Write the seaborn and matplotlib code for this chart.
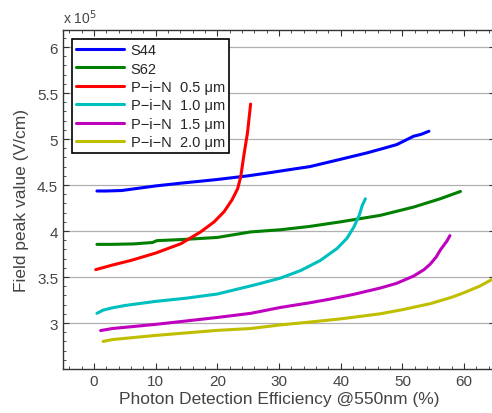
import matplotlib
matplotlib.use("Agg")
import matplotlib.pyplot as plt
from matplotlib.ticker import MultipleLocator
import pandas as pd
import seaborn as sns

# values (x = PDE %, y = field peak in 1e5 V/cm)
s44_x = [0.5, 2, 4.5, 10, 14.1, 20, 25, 28.6, 32, 35, 40, 44.3, 47, 49.1, 51.8, 53, 54.3]
s44_y = [4.435, 4.435, 4.44, 4.49, 4.52, 4.56, 4.60, 4.635, 4.67, 4.70, 4.78, 4.85, 4.90, 4.94, 5.03, 5.05, 5.085]

s62_x = [0.5, 3, 6.5, 9.5, 10.2, 15, 20, 25.4, 30.3, 35, 40, 46.4, 51.8, 56.1, 59.4]
s62_y = [3.855, 3.855, 3.86, 3.875, 3.895, 3.91, 3.93, 3.99, 4.014, 4.05, 4.10, 4.17, 4.26, 4.35, 4.43]

pin05_x = [0.3, 3, 6, 10, 14.1, 17.3, 19.5, 21.1, 22.4, 23.3, 23.8, 24.3, 24.9, 25.4]
pin05_y = [3.58, 3.63, 3.68, 3.76, 3.862, 3.99, 4.10, 4.21, 4.34, 4.46, 4.59, 4.82, 5.07, 5.38]

pin10_x = [0.5, 1.5, 3, 5, 10, 15, 20, 23.8, 27, 30.3, 33.5, 36.7, 39.4, 41.0, 42.1, 43.0, 43.5, 44.0]
pin10_y = [3.105, 3.14, 3.165, 3.19, 3.235, 3.27, 3.315, 3.377, 3.43, 3.49, 3.57, 3.68, 3.81, 3.92, 4.04, 4.17, 4.28, 4.35]

pin15_x = [1.1, 3, 10, 20, 25.4, 30.3, 35, 38.3, 42, 46.4, 49, 51.8, 53.5, 54.5, 55.5, 56.1, 57.2, 57.7]
pin15_y = [2.918, 2.94, 2.985, 3.06, 3.105, 3.17, 3.22, 3.26, 3.31, 3.38, 3.43, 3.51, 3.58, 3.64, 3.72, 3.79, 3.89, 3.95]

pin20_x = [1.5, 3, 10, 20, 25.4, 30.3, 35, 40, 46.4, 50, 54.5, 58, 60.0, 62.5, 64.7, 66]
pin20_y = [2.80, 2.82, 2.865, 2.92, 2.94, 2.98, 3.01, 3.045, 3.10, 3.145, 3.21, 3.28, 3.33, 3.40, 3.48, 3.53]

labels = ["S44", "S62", "P\u2212i\u2212N  0.5 \u03bcm", "P\u2212i\u2212N  1.0 \u03bcm",
          "P\u2212i\u2212N  1.5 \u03bcm", "P\u2212i\u2212N  2.0 \u03bcm"]
colors = ["#0000ff", "#007f00", "#ff0000", "#00bfbf", "#bf00bf", "#bfbf00"]
series = [(s44_x, s44_y), (s62_x, s62_y), (pin05_x, pin05_y),
          (pin10_x, pin10_y), (pin15_x, pin15_y), (pin20_x, pin20_y)]

sns.set_style("ticks")
plt.rcParams["font.family"] = ["Liberation Sans", "DejaVu Sans"]
plt.rcParams["xtick.direction"] = "in"
plt.rcParams["ytick.direction"] = "in"

fig = plt.figure(figsize=(4.92, 4.14), dpi=100)
ax = fig.add_axes([63 / 492, 44 / 414, (495 - 63) / 492, (370 - 31) / 414])

frames = []
for (x, y), lab in zip(series, labels):
    frames.append(pd.DataFrame({"x": x, "y": y, "series": lab}))
df = pd.concat(frames, ignore_index=True)

sns.lineplot(data=df, x="x", y="y", hue="series", hue_order=labels,
             palette=colors, linewidth=2.2, sort=False, estimator=None, ax=ax)

ax.set_xlim(-5, 65)
ax.set_ylim(2.5, 6.185)
ax.xaxis.set_major_locator(MultipleLocator(10))
ax.xaxis.set_minor_locator(MultipleLocator(2))
ax.yaxis.set_minor_locator(MultipleLocator(0.1))
ax.set_yticks([3, 3.5, 4, 4.5, 5, 5.5, 6])
ax.set_yticklabels(["3", "3.5", "4", "4.5", "5", "5.5", "6"])
ax.tick_params(which="both", top=True, right=True, labelsize=11, colors="#333333",
               labelcolor="#444444")
ax.tick_params(which="major", length=4)
ax.tick_params(which="minor", length=2)
ax.grid(axis="y", color="#b0b0b0", linewidth=0.9)
ax.set_axisbelow(True)
for sp in ax.spines.values():
    sp.set_color("#333333")
    sp.set_linewidth(1.0)

ax.set_xlabel("Photon Detection Efficiency @550nm (%)", fontsize=12.5, color="#444444", labelpad=2)
ax.set_ylabel("Field peak value (V/cm)", fontsize=12.5, color="#444444", labelpad=6)
fig.text(63 / 492, 1 - 18 / 414, "x 10$^5$", fontsize=10, color="#444444", va="center", ha="left")

leg = ax.legend(loc="upper left", fontsize=10.5, frameon=True, fancybox=False,
                edgecolor="black", framealpha=1, borderpad=0.3, handlelength=3.3,
                labelspacing=0.3, handletextpad=0.45, borderaxespad=0.6)
leg.get_frame().set_linewidth(1.2)
for line in leg.get_lines():
    line.set_linewidth(2.2)

fig.savefig("out.png", dpi=100)
